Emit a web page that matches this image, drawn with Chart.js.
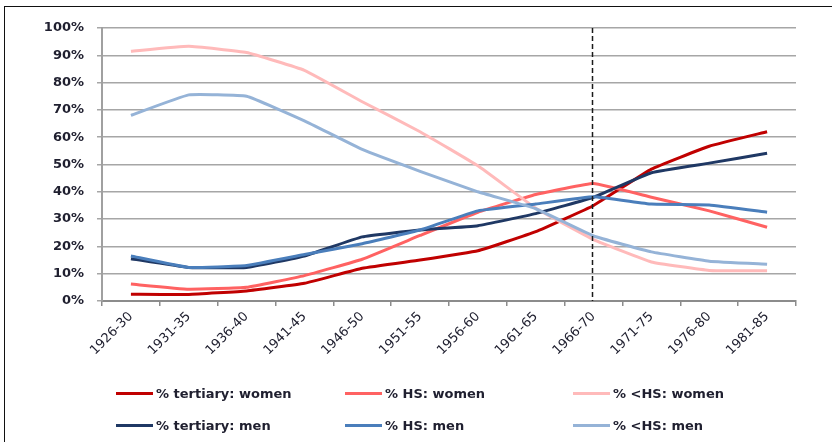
<!DOCTYPE html>
<html lang="en">
	<head>
		<meta charset="UTF-8" />
		<title>Education attainment by birth cohort</title>
		<script src="https://cdn.jsdelivr.net/npm/chart.js"></script>
		<style>
			html, body {
				margin: 0;
				padding: 0;
				background: #fff;
			}
			#wrap {
				position: relative;
				width: 832px;
				height: 442px;
				overflow: hidden;
			}
			#frame {
				position: absolute;
				left: 4px;
				top: 6px;
				width: 900px;
				height: 500px;
				border: 1.5px solid #111;
			}
			#chart {
				position: absolute;
				left: 0;
				top: 0;
			}
			.leg {
				position: absolute;
				display: flex;
				align-items: center;
				font-family: "DejaVu Sans", sans-serif;
				font-weight: bold;
				font-size: 13px;
				color: #202030;
				white-space: nowrap;
			}
			.leg span.sw {
				display: inline-block;
				width: 37px;
				height: 3px;
				margin-right: 3px;
			}
		</style>
	</head>
	<body>
		<div id="wrap">
			<div id="frame"></div>
			<canvas id="chart" width="832" height="442"></canvas>
			<div id="legend"></div>
		</div>

		<script>
			const cohorts = ["1926-30", "1931-35", "1936-40", "1941-45", "1946-50", "1951-55", "1956-60", "1961-65", "1966-70", "1971-75", "1976-80", "1981-85"];
			const yTicks = [0, 10, 20, 30, 40, 50, 60, 70, 80, 90, 100];

			const tertiaryWomen = [2.5, 2.4, 3.7, 6.5, 12, 15, 18.4, 25.4, 35, 48.3, 56.7, 62];
			const hsWomen = [6.2, 4.3, 5, 9.3, 15.3, 24, 32.5, 39, 43, 38, 33, 27];
			const lessHsWomen = [91.5, 93.3, 91, 84.5, 73, 62, 49.5, 34, 22.5, 14.3, 11.2, 11.1];
			const tertiaryMen = [15.5, 12.3, 12.3, 16.5, 23.5, 26, 27.6, 32, 38, 47, 50.5, 54.1];
			const hsMen = [16.5, 12.3, 13, 17, 21, 26, 33, 35.5, 38.2, 35.5, 35.2, 32.5];
			const lessHsMen = [68, 75.5, 75, 66, 55.5, 47.5, 40, 33.8, 23.8, 18, 14.6, 13.5];

			const seriesNames = ["% tertiary: women", "% HS: women", "% <HS: women", "% tertiary: men", "% HS: men", "% <HS: men"];
			const seriesData = [tertiaryWomen, hsWomen, lessHsWomen, tertiaryMen, hsMen, lessHsMen];
			const seriesColors = ["#c00000", "#ff6262", "#ffbaba", "#1f3864", "#4a7ebb", "#95b3d7"];

			const markerIndex = 8; // 1966-70

			// dashed vertical marker
			const dashLine = {
				id: "dashLine",
				afterDatasetsDraw(chart) {
					const { ctx, chartArea, scales } = chart;
					const x = Math.round(scales.x.getPixelForValue(markerIndex)) - 1.5;
					ctx.save();
					ctx.strokeStyle = "#1a1a1a";
					ctx.lineWidth = 1.5;
					ctx.setLineDash([5, 3]);
					ctx.beginPath();
					ctx.moveTo(x, chartArea.top);
					ctx.lineTo(x, chartArea.bottom);
					ctx.stroke();
					ctx.restore();
				},
			};

			const datasets = seriesData.map((d, i) => ({
				label: seriesNames[i],
				data: d,
				borderColor: seriesColors[i],
				backgroundColor: seriesColors[i],
				borderWidth: 3,
				pointRadius: 0,
				tension: 0.1,
				fill: false,
				order: 6 - i,
			}));

			new Chart(document.getElementById("chart"), {
				type: "line",
				data: { labels: cohorts, datasets: datasets },
				options: {
					responsive: false,
					animation: false,
					layout: { padding: { left: 0, top: 28, right: 36, bottom: 81 } },
					plugins: {
						legend: { display: false },
						tooltip: { enabled: false },
					},
					scales: {
						x: {
							offset: true,
							afterFit: (s) => {
								s.height = 60;
							},
							grid: {
								offset: true,
								drawOnChartArea: false,
								drawTicks: true,
								tickLength: 5,
								color: "#8c8c8c",
								lineWidth: 1.5,
							},
							border: { color: "#8c8c8c", width: 2 },
							ticks: {
								minRotation: 45,
								maxRotation: 45,
								autoSkip: false,
								padding: 3,
								color: "#202030",
								font: { family: "DejaVu Sans", size: 13 },
							},
						},
						y: {
							min: 0,
							max: 100,
							afterFit: (s) => {
								s.width = 102;
							},
							afterBuildTicks: (s) => {
								s.ticks = yTicks.map((v) => ({ value: v }));
							},
							grid: {
								color: "#a6a6a6",
								lineWidth: 1.5,
								tickLength: 5,
							},
							border: { color: "#a0a0a0", width: 2 },
							ticks: {
								padding: 13,
								color: "#202030",
								font: { family: "DejaVu Sans", size: 13, weight: "bold" },
								callback: (v) => v + "%",
							},
						},
					},
				},
				plugins: [dashLine],
			});

			// legend in 3 columns, 2 rows
			const legCols = [116, 345, 573];
			const legRows = [393, 425];
			const legend = document.getElementById("legend");
			seriesNames.forEach((name, i) => {
				const el = document.createElement("div");
				el.className = "leg";
				el.style.left = legCols[i % 3] + "px";
				el.style.top = legRows[Math.floor(i / 3)] - 9 + "px";
				el.style.height = "18px";
				const sw = document.createElement("span");
				sw.className = "sw";
				sw.style.background = seriesColors[i];
				el.appendChild(sw);
				el.appendChild(document.createTextNode(name));
				legend.appendChild(el);
			});
		</script>
	</body>
</html>
